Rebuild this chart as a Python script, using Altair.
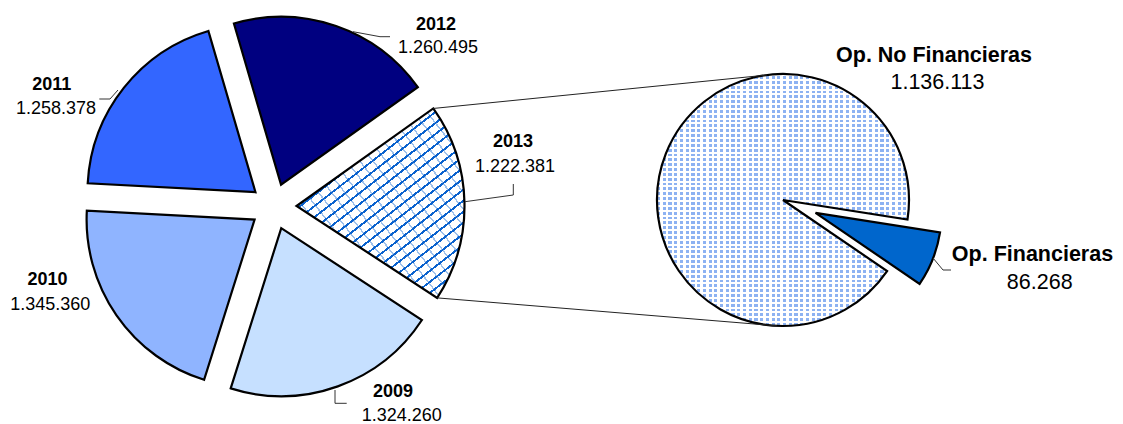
import math
import altair as alt
import pandas as pd

# ---------------- data ----------------
years = ["2009", "2010", "2011", "2012", "2013"]
year_values = [1324260, 1345360, 1258378, 1260495, 1222381]
ops = ["Op. No Financieras", "Op. Financieras"]
op_values = [1136113, 86268]

# ---------------- layout / style ----------------
year_order = [1, 2, 3, 4, 0]          # clockwise drawing order (2013 first)
op_order = [1, 0]
year_colors = ["#C6E0FF", "#8FB4FF", "#3366FF", "#000080", "#FFFFFF"]
op_colors = ["#FFFFFF", "#0066CC"]
year_explode = [23, 23, 23, 23, 23]
op_explode = [0, 35]

LCX, LCY, LR, LA0 = 265.5, 198.5, 168, math.radians(54.5)
RCX, RCY, RR, RA0 = 775, 192, 126, math.radians(98.9)
CONN_TOP, CONN_BOT = math.radians(-7.4), math.radians(182.8)

# label anchor positions (centre of text), plot coordinates
year_name_pos = [(385, 384), (39.5, 272), (43.7, 77), (428, 17), (505, 133.5)]
year_value_pos = [(393.7, 408), (42.3, 297), (48, 101), (430, 39.5), (507, 159)]
op_name_pos = [(926, 48), (1024.5, 247)]
op_value_pos = [(929.5, 75), (1031.7, 275)]

leaders = {
    "2012": [(345, 23.7), (372, 28.7), (382, 28.7)],
    "2011": [(110, 82), (102, 91), (91.3, 91)],
    "2013": [(457, 193.7), (505.3, 187), (505.3, 176)],
    "2009": [(327, 382), (327, 395.3), (338.7, 395.3)],
    "Fin": [(925, 250), (935, 262), (943, 262)],
}

FONT = "Liberation Sans"


def fmt(v):
    return f"{v:,}".replace(",", ".")


def stripes(a, b, n, duty, on, off):
    s = (0.5 * abs(a) + 0.5 * abs(b)) / (a * a + b * b)
    stops = []
    for i in range(n):
        o0 = round(i / n, 5)
        o1 = round((i + duty) / n, 5)
        o2 = round((i + 1) / n, 5)
        stops += [(o0, on), (o1, on), (o1, off), (o2, off)]
    return alt.Gradient(
        gradient="linear",
        stops=[alt.GradientStop(offset=o, color=c) for o, c in stops],
        x1=0.5 - a * s, y1=0.5 - b * s, x2=0.5 + a * s, y2=0.5 + b * s,
    )


left_df = pd.DataFrame({"label": years, "value": year_values,
                        "ord": year_order, "exp": year_explode})
right_df = pd.DataFrame({"label": ops, "value": op_values,
                         "ord": op_order, "exp": op_explode})

color_scale = alt.Scale(domain=years + ops, range=year_colors + op_colors)


def pie_base(df, cx, cy, a0):
    return (
        alt.Chart(df)
        .transform_stack(stack="value", groupby=[], as_=["v0", "v1"],
                         sort=[alt.SortField("ord", order="ascending")])
        .transform_joinaggregate(total="sum(value)")
        .transform_calculate(t0=f"{a0} + 2*PI*datum.v0/datum.total")
        .transform_calculate(t1=f"{a0} + 2*PI*datum.v1/datum.total")
        .transform_calculate(mid="(datum.t0 + datum.t1)/2")
        .transform_calculate(cx=f"{cx} + datum.exp*sin(datum.mid)")
        .transform_calculate(cy=f"{cy} - datum.exp*cos(datum.mid)")
    )


def arc_enc(a0):
    return dict(
        theta=alt.Theta("value:Q", stack=True,
                        scale=alt.Scale(range=[a0, a0 + 2 * math.pi])),
        order=alt.Order("ord:Q", sort="ascending"),
        x=alt.X("cx:Q", scale=None, axis=None),
        y=alt.Y("cy:Q", scale=None, axis=None),
    )


# ---------- left pie ----------
lp = pie_base(left_df, LCX, LCY, LA0)
lenc = arc_enc(LA0)
left_fill = lp.mark_arc(outerRadius=LR).encode(
    **lenc, color=alt.Color("label:N", scale=color_scale, legend=None))
hatch_a = stripes(0.69, 1.0, 29, 0.22, "#0A62CE", "rgba(255,255,255,0)")
hatch_b = stripes(-1.0, 0.883, 24, 0.14, "rgba(10,98,206,0.4)", "rgba(255,255,255,0)")
left_hatch1 = lp.mark_arc(outerRadius=LR, fill=hatch_a).encode(
    **lenc, fillOpacity=alt.condition("datum.label == '2013'", alt.value(1), alt.value(0)))
left_hatch2 = lp.mark_arc(outerRadius=LR, fill=hatch_b).encode(
    **lenc, fillOpacity=alt.condition("datum.label == '2013'", alt.value(1), alt.value(0)))
left_outline = lp.mark_arc(outerRadius=LR, fillOpacity=0, stroke="black",
                           strokeWidth=2.2, strokeJoin="miter").encode(**lenc)

# ---------- right pie ----------
rp = pie_base(right_df, RCX, RCY, RA0)
renc = arc_enc(RA0)
right_fill = rp.mark_arc(outerRadius=RR).encode(
    **renc, color=alt.Color("label:N", scale=color_scale, legend=None))
dots_v = stripes(1.0, 0.0, 44, 0.55, "#8DB2F2", "#FFFFFF")
dots_h = stripes(0.0, 1.0, 52, 0.42, "#FFFFFF", "rgba(255,255,255,0)")
nofin = "datum.label == 'Op. No Financieras'"
right_dots1 = rp.mark_arc(outerRadius=RR, fill=dots_v).encode(
    **renc, fillOpacity=alt.condition(nofin, alt.value(1), alt.value(0)))
right_dots2 = rp.mark_arc(outerRadius=RR, fill=dots_h).encode(
    **renc, fillOpacity=alt.condition(nofin, alt.value(1), alt.value(0)))
right_outline = rp.mark_arc(outerRadius=RR, fillOpacity=0, stroke="black",
                            strokeWidth=2.2, strokeJoin="miter").encode(**renc)

# ---------- connectors (from the 2013 slice corners to the second pie) ----------
conn = (
    pie_base(left_df, LCX, LCY, LA0)
    .transform_filter("datum.label == '2013'")
    .transform_calculate(ux=f"datum.cx + {LR}*sin(datum.t0)")
    .transform_calculate(uy=f"datum.cy - {LR}*cos(datum.t0)")
    .transform_calculate(lx=f"datum.cx + {LR}*sin(datum.t1)")
    .transform_calculate(ly=f"datum.cy - {LR}*cos(datum.t1)")
    .transform_calculate(rtx=f"{RCX} + {RR}*sin({CONN_TOP})")
    .transform_calculate(rty=f"{RCY} - {RR}*cos({CONN_TOP})")
    .transform_calculate(rbx=f"{RCX} + {RR}*sin({CONN_BOT})")
    .transform_calculate(rby=f"{RCY} - {RR}*cos({CONN_BOT})")
)
conn_top = conn.mark_rule(color="#222222", strokeWidth=1).encode(
    x=alt.X("ux:Q", scale=None, axis=None), y=alt.Y("uy:Q", scale=None, axis=None),
    x2="rtx:Q", y2="rty:Q")
conn_bot = conn.mark_rule(color="#222222", strokeWidth=1).encode(
    x=alt.X("lx:Q", scale=None, axis=None), y=alt.Y("ly:Q", scale=None, axis=None),
    x2="rbx:Q", y2="rby:Q")

# ---------- leader lines ----------
lead_rows = []
for k, pts in leaders.items():
    for i, (px, py) in enumerate(pts):
        lead_rows.append({"lid": k, "seq": i, "px": px, "py": py})
lead_df = pd.DataFrame(lead_rows)
lead = alt.Chart(lead_df).mark_line(color="#333333", strokeWidth=1).encode(
    x=alt.X("px:Q", scale=None, axis=None), y=alt.Y("py:Q", scale=None, axis=None),
    detail="lid:N", order="seq:Q")

# ---------- labels ----------
yl_df = pd.DataFrame({
    "name": years, "val": [fmt(v) for v in year_values],
    "nx": [p[0] for p in year_name_pos], "ny": [p[1] for p in year_name_pos],
    "vx": [p[0] for p in year_value_pos], "vy": [p[1] for p in year_value_pos],
})
ol_df = pd.DataFrame({
    "name": ops, "val": [fmt(v) for v in op_values],
    "nx": [p[0] for p in op_name_pos], "ny": [p[1] for p in op_name_pos],
    "vx": [p[0] for p in op_value_pos], "vy": [p[1] for p in op_value_pos],
})


def text_layer(df, xf, yf, tf, size, weight):
    return alt.Chart(df).mark_text(font=FONT, fontSize=size, fontWeight=weight,
                                   align="center", baseline="middle",
                                   color="black").encode(
        x=alt.X(f"{xf}:Q", scale=None, axis=None),
        y=alt.Y(f"{yf}:Q", scale=None, axis=None),
        text=f"{tf}:N")


texts = [
    text_layer(yl_df, "nx", "ny", "name", 18, "bold"),
    text_layer(yl_df, "vx", "vy", "val", 18, "normal"),
    text_layer(ol_df, "nx", "ny", "name", 21.5, "bold"),
    text_layer(ol_df, "vx", "vy", "val", 21.5, "normal"),
]

chart = alt.layer(
    left_fill, left_hatch1, left_hatch2, left_outline,
    right_fill, right_dots1, right_dots2, right_outline,
    conn_top, conn_bot, lead, *texts,
).resolve_scale(theta="independent").properties(
    width=1107, height=416, autosize=alt.AutoSizeParams(type="none"), padding=0,
).configure_view(stroke=None)

chart.save("out.html", embed_options={"renderer": "svg", "actions": False})
